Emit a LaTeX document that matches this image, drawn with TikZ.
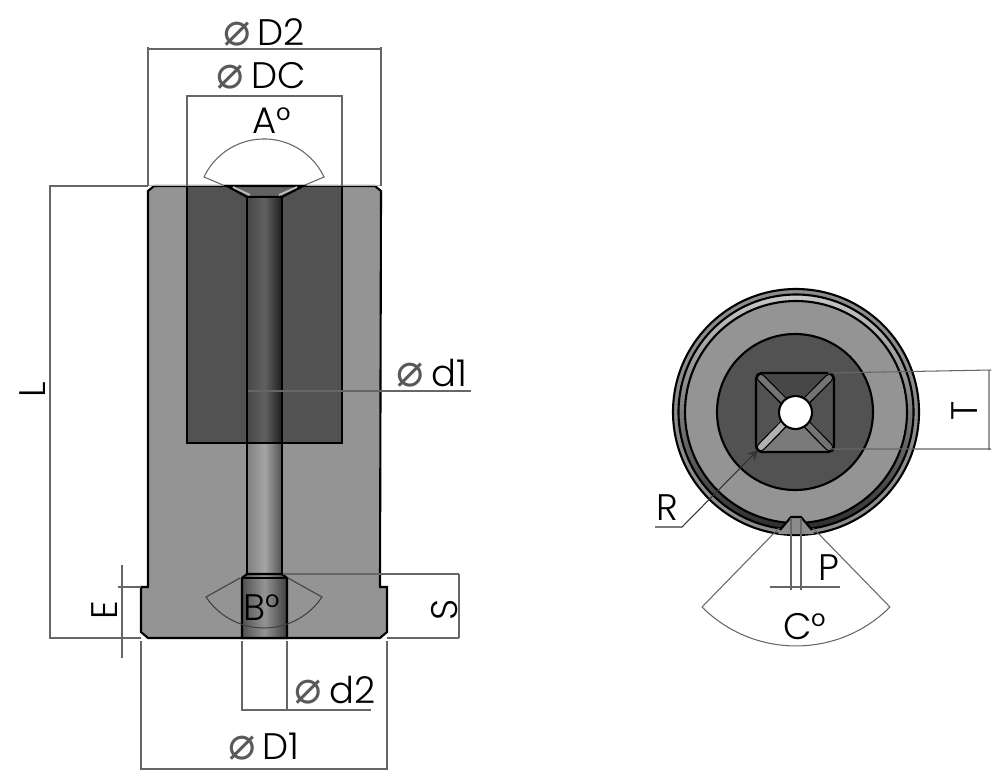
\documentclass[tikz,border=0pt]{standalone}
\usepackage{fontspec}
\setmainfont{Poppins Light}
\newfontfamily\symfont{DejaVu Sans}
\newcommand{\dia}{{\color{black!65}\symfont\fontsize{13}{13}\selectfont ⌀}\hspace{2pt}}
\tikzset{
  dimline/.style={draw=black!60,line width=0.3pt},
  outline/.style={draw=black,line width=0.6pt},
  dimtext/.style={inner sep=0pt,font=\fontsize{10.5}{11}\selectfont},
  groove/.style={line width=2.4pt,line cap=round},
}
\begin{document}
\begin{tikzpicture}[x=0.01cm,y=-0.01cm]
  \useasboundingbox (0,0) rectangle (1000,778);
  % side view
  \draw [outline,fill=black!42] (154,186) -- (375,186) -- (381,191) -- (380,587) -- (387,587) -- (387,632) -- (380,638) -- (148,638) -- (141,632) -- (141,587) -- (148,587) -- (148,191) -- cycle ;
  \draw [outline,fill=black!68] (187,186) rectangle (342,443) ;
  \draw [draw=black!30,line width=0.5pt] (148,185.5) -- (381,185.5) ;
  \draw [outline,fill=black!62] (227,186) -- (303,186) -- (282,197) -- (247,197) -- cycle ;
  \draw [draw=black!25,line width=0.5pt] (233,187) -- (250,195) (297,187) -- (279,195) ;
  \draw [outline,left color=black!72,right color=black!88,middle color=black!62] (247,197) rectangle (282,443) ;
  \draw [outline,left color=black!50,right color=black!68,middle color=black!35] (247,443) rectangle (282,574) ;
  \draw [outline,left color=black!68,right color=black!75,middle color=black!42] (247,574) -- (282,574) -- (287,578) -- (287,638) -- (242,638) -- (242,578) -- cycle ;
  \draw [outline] (242,578) -- (287,578) ;
  % side view dimensions
  \draw [dimline] (148,186) -- (148,47) (381,186) -- (381,47) (148,49) -- (381,49) ;
  \draw [dimline] (187,186) -- (187,95) (342,186) -- (342,95) (187,96) -- (342,96) ;
  \draw [dimline] (148,186) -- (49,186) (141,638) -- (49,638) (50,186) -- (50,638) ;
  \draw [dimline] (141,587) -- (118,587) (122,565) -- (122,658) (122,638) -- (141,638) ;
  \draw [dimline] (283,574) -- (459,574) (387,638) -- (459,638) (459,574) -- (459,638) ;
  \draw [dimline] (248,391) -- (471,391) ;
  \draw [dimline] (242,641) -- (242,711) (287,641) -- (287,711) (242,710) -- (371,710) ;
  \draw [dimline] (141,641) -- (141,770) (387,641) -- (387,770) (141,769) -- (387,769) ;
  % angles
  \draw [dimline] (223,185) -- (204,177) arc [start angle=205.3,end angle=334.7,radius=66.4] -- (305,185) ;
  \draw [dimline,draw=black!75] (240,578) -- (206,597) arc [start angle=146.2,end angle=33.8,radius=69.8] -- (288,578) ;
  % end view
  \draw [outline,fill=black!45] (796,412) circle (123) ;
  \path [even odd rule,top color=black!22,bottom color=black!82,middle color=black!52] (796,412) circle (117.5) (796,412) circle (111) ;
  \draw [outline] (796,412) circle (117.5) ;
  \draw [outline,fill=black!42] (796,412) circle (111) ;
  \fill [black!45] (782,528) -- (791,517) -- (801,517) -- (810,528) -- (814,534) -- (778,534) -- cycle ;
  \draw [outline] (780,530) -- (791,517) -- (801,517) -- (812,530) ;
  \draw [outline,fill=black!68] (795,412) circle (78) ;
  \fill [black!72] (760,373) -- (830,373) -- (795,412) -- cycle ;
  \fill [black!68] (756,377) -- (756,448) -- (795,412) -- cycle ;
  \fill [black!68] (834,377) -- (834,448) -- (795,412) -- cycle ;
  \fill [black!52] (760,452) -- (830,452) -- (795,412) -- cycle ;
  \draw [groove] (761,378) -- (829,447) (829,378) -- (761,447) ;
  \draw [line width=1.7pt,draw=black!55,line cap=round] (761,378) -- (795,412) (829,378) -- (795,412) (795,412) -- (829,447) ;
  \draw [line width=1.7pt,draw=black!30,line cap=round] (761,447) -- (795,412) ;
  \draw [outline,rounded corners=1.5pt] (756,373) rectangle (834,452) ;
  \draw [outline,fill=white] (795.5,412.5) circle (16.5) ;
  % end view dimensions
  \draw [dimline] (828,373) -- (991,370) (828,449) -- (991,449) (989,370) -- (989,450) ;
  \draw [dimline,draw=black!80,-stealth] (655,527) -- (682,527) -- (758,450) ;
  \draw [dimline] (791,518) -- (791,590) (801,518) -- (801,590) (770,587) -- (840,587) ;
  \draw [dimline] (779,528) -- (702,607) arc [start angle=135,end angle=45,radius=132.9] -- (813,528) ;
  % labels
  \draw (264,32) node [dimtext] (labelDtwo) {\dia D2} ;
  \draw (261,76) node [dimtext] (labelDC) {\dia DC} ;
  \draw (272,121) node [dimtext] (labelA) {A°} ;
  \draw (432,373) node [dimtext] (labelDone) {\dia d1} ;
  \draw (33,390) node [dimtext,rotate=90] (labelL) {L} ;
  \draw (105,610) node [dimtext,rotate=90] (labelE) {E} ;
  \draw (445,610) node [dimtext,rotate=90] (labelS) {S} ;
  \draw (262,608) node [dimtext] (labelB) {B°} ;
  \draw (335,690) node [dimtext] (labeldtwo) {\dia d2} ;
  \draw (264,747) node [dimtext] (labelDfoot) {\dia D1} ;
  \draw (965,411) node [dimtext,rotate=90] (labelT) {T} ;
  \draw (667,508) node [dimtext] (labelR) {R} ;
  \draw (829,568) node [dimtext] (labelP) {P} ;
  \draw (805,627) node [dimtext] (labelC) {C°} ;
\end{tikzpicture}
\end{document}
